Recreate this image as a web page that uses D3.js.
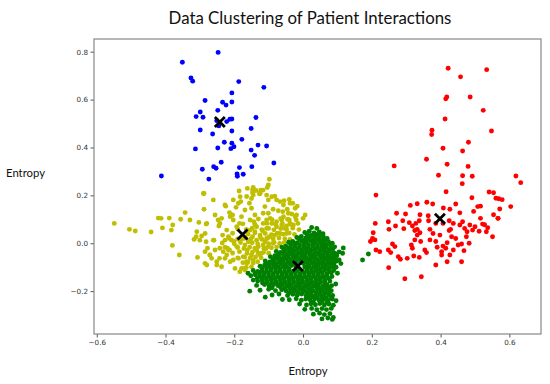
<!DOCTYPE html>
<html>
<head>
<meta charset="utf-8">
<script src="https://cdn.jsdelivr.net/npm/d3@7"></script>
<style>
  body { margin: 0; background: #fff; }
  svg { display: block; }
</style>
</head>
<body>
<div id="chart"></div>
<script>
// tick values
const xTicks = [-0.6, -0.4, -0.2, 0.0, 0.2, 0.4, 0.6];
const yTicks = [-0.2, 0.0, 0.2, 0.4, 0.6, 0.8];

// cluster points [entropy x, entropy y]
const bluePts = [[-0.247,0.797],[-0.351,0.756],[-0.326,0.690],[-0.321,0.677],[-0.187,0.675],[-0.114,0.651],[-0.207,0.628],[-0.285,0.596],[-0.234,0.589],[-0.224,0.577],[-0.207,0.590],[-0.248,0.555],[-0.299,0.548],[-0.311,0.529],[-0.291,0.526],[-0.137,0.525],[-0.251,0.512],[-0.222,0.508],[-0.213,0.518],[-0.207,0.519],[-0.245,0.490],[-0.299,0.473],[-0.263,0.456],[-0.207,0.469],[-0.151,0.479],[-0.178,0.434],[-0.229,0.422],[-0.207,0.418],[-0.313,0.394],[-0.248,0.398],[-0.210,0.395],[-0.201,0.403],[-0.151,0.389],[-0.131,0.410],[-0.106,0.406],[-0.141,0.367],[-0.238,0.338],[-0.260,0.320],[-0.253,0.313],[-0.293,0.309],[-0.185,0.316],[-0.149,0.320],[-0.085,0.335],[-0.274,0.268],[-0.192,0.289],[-0.191,0.280],[-0.174,0.288],[-0.412,0.281]];

const yellowPts = [[-0.549,0.083],[-0.505,0.058],[-0.488,0.051],[-0.442,0.047],[-0.421,0.105],[-0.413,0.104],[-0.409,0.064],[-0.389,0.105],[-0.379,0.076],[-0.383,0.055],[-0.380,-0.009],[-0.360,-0.049],[-0.356,0.100],[-0.343,0.128],[-0.329,0.097],[-0.309,0.048],[-0.317,0.016],[-0.311,0.027],[-0.307,-0.059],[-0.303,0.087],[-0.282,0.080],[-0.288,0.208],[-0.288,0.142],[-0.295,0.030],[-0.300,0.013],[-0.282,0.006],[-0.278,-0.021],[-0.285,-0.035],[-0.280,-0.091],[-0.271,-0.049],[-0.266,-0.063],[-0.259,0.013],[-0.256,-0.028],[-0.247,0.097],[-0.242,0.083],[-0.237,0.104],[-0.245,0.072],[-0.234,0.034],[-0.227,0.013],[-0.222,0.055],[-0.217,0.027],[-0.227,-0.017],[-0.222,-0.049],[-0.232,-0.035],[-0.214,-0.028],[-0.212,-0.077],[-0.243,-0.063],[-0.251,-0.091],[-0.237,-0.098],[-0.225,0.155],[-0.214,0.128],[-0.205,0.118],[-0.203,0.097],[-0.195,0.150],[-0.188,0.167],[-0.181,0.174],[-0.193,0.069],[-0.185,0.083],[-0.179,0.111],[-0.201,0.007],[-0.193,-0.014],[-0.185,-0.035],[-0.188,-0.063],[-0.198,-0.105],[-0.174,0.020],[-0.169,-0.007],[-0.162,-0.028],[-0.174,-0.056],[-0.164,-0.084],[-0.169,0.139],[-0.164,0.195],[-0.156,0.167],[-0.150,0.146],[-0.162,0.229],[-0.147,0.222],[-0.145,0.201],[-0.137,0.220],[-0.125,0.208],[-0.154,0.097],[-0.143,0.090],[-0.135,0.069],[-0.140,0.048],[-0.154,0.055],[-0.147,0.027],[-0.135,0.013],[-0.125,0.034],[-0.130,-0.014],[-0.121,-0.042],[-0.116,-0.007],[-0.106,0.020],[-0.116,0.083],[-0.106,0.097],[-0.101,0.125],[-0.111,0.153],[-0.116,0.222],[-0.106,0.201],[-0.101,0.181],[-0.172,-0.105],
  [-0.098,0.267],[-0.101,0.243],[-0.104,0.233],[-0.145,0.233],[-0.147,0.211],[-0.150,0.187],[-0.123,0.222],[-0.127,0.206],[-0.186,0.218],[-0.082,0.197],[-0.067,0.174],[-0.055,0.178],[-0.040,0.183],[-0.030,0.167],[-0.017,0.155],[-0.087,0.142],[-0.072,0.136],[-0.059,0.132],[-0.046,0.142],[-0.033,0.122],[-0.023,0.111],[-0.040,0.097],[-0.057,0.111],[-0.091,0.083],[-0.077,0.069],[-0.062,0.076],[-0.048,0.072],[-0.028,0.076],[-0.106,0.062],[-0.118,0.052],[-0.125,0.027],[-0.111,0.006],[-0.098,0.027],[-0.082,0.034],[-0.067,0.041],[-0.048,0.041],[-0.135,-0.028],[-0.125,-0.049],[-0.145,-0.070],[-0.150,-0.049],[-0.179,-0.105],[-0.169,-0.112],[-0.184,-0.119],[-0.114,-0.021],[-0.101,-0.014],[-0.087,0.000],
  [-0.290,0.208],[-0.261,0.181],[-0.227,0.160],[-0.203,0.181],[-0.183,0.194],[-0.125,0.210],[-0.091,0.194],[-0.077,0.181],[-0.057,0.160],[-0.038,0.167],[-0.023,0.146],[0.006,0.118],[-0.019,0.118],[-0.043,0.125],[-0.062,0.097],[-0.038,0.083],[-0.053,0.062],[-0.077,0.090],[-0.096,0.104],[-0.116,0.125],[-0.140,0.118],[-0.212,0.111],[-0.256,0.118],[-0.280,0.083],[-0.285,0.041],[-0.261,0.013],[-0.208,0.013],[-0.217,-0.028],[-0.242,-0.021],[-0.271,-0.049],[-0.251,-0.077],[-0.285,-0.084],[-0.227,-0.063],[-0.203,-0.070],[-0.164,-0.077],[-0.159,0.006],[-0.183,0.013],
  [-0.190,0.060],[-0.165,0.058],[-0.148,0.063],[-0.120,0.057],[-0.100,0.062],[-0.085,0.056],[-0.065,0.061],[-0.048,0.058],[-0.030,0.063],[-0.012,0.057],
  [-0.205,0.042],[-0.160,0.038],[-0.140,0.043],[-0.110,0.041],[-0.092,0.036],[-0.075,0.042],[-0.058,0.038],[-0.040,0.043],[-0.025,0.037],
  [-0.215,0.021],[-0.190,0.018],[-0.168,0.022],[-0.152,0.018],[-0.120,0.017],[-0.103,0.021],[-0.087,0.018],[-0.070,0.022],[-0.053,0.019],[-0.038,0.016],
  [-0.235,0.001],[-0.200,-0.002],[-0.182,0.003],[-0.148,0.002],[-0.132,-0.003],[-0.100,-0.002],[-0.084,0.003],[-0.068,-0.001],[-0.055,0.002],
  [-0.220,-0.021],[-0.190,-0.018],[-0.172,-0.022],[-0.155,-0.017],[-0.140,-0.021],[-0.108,-0.023],[-0.092,-0.019],[-0.077,-0.016],
  [-0.205,-0.041],[-0.163,-0.042],[-0.147,-0.037],[-0.131,-0.041],[-0.115,-0.038],[-0.100,-0.042],
  [-0.190,-0.061],[-0.170,-0.058],[-0.154,-0.062],[-0.138,-0.057],[-0.122,-0.061],
  [-0.175,-0.081],[-0.160,-0.078],[-0.145,-0.082],[-0.132,-0.077],[-0.165,-0.101],[-0.150,-0.098],
  [-0.175,0.081],[-0.140,0.078],[-0.105,0.083],[-0.080,0.079],[-0.060,0.082],[-0.035,0.078],[-0.015,0.083],
  [-0.130,0.101],[-0.090,0.098],[-0.065,0.103],[-0.045,0.100],[-0.020,0.098],[0.000,0.104]];

const greenPts = [[0.025,0.066],[0.040,0.062],
  [0.005,0.045],[0.018,0.050],[0.032,0.043],[0.047,0.047],[0.058,0.040],
  [-0.018,0.024],[-0.005,0.028],[0.008,0.022],[0.021,0.030],[0.034,0.025],[0.046,0.021],[0.059,0.027],[0.070,0.020],
  [-0.042,0.004],[-0.030,0.008],[-0.017,0.002],[-0.004,0.009],[0.009,0.004],[0.022,0.010],[0.035,0.003],[0.048,0.007],[0.061,0.001],[0.074,0.006],[0.085,0.000],
  [-0.062,-0.016],[-0.050,-0.012],[-0.037,-0.018],[-0.024,-0.013],[-0.011,-0.019],[0.002,-0.014],[0.015,-0.017],[0.028,-0.012],[0.041,-0.018],[0.054,-0.013],[0.067,-0.016],[0.080,-0.020],[0.092,-0.015],
  [-0.078,-0.034],[-0.066,-0.038],[-0.053,-0.032],[-0.040,-0.037],[-0.027,-0.033],[-0.014,-0.039],[-0.001,-0.034],[0.012,-0.036],[0.025,-0.031],[0.038,-0.038],[0.051,-0.033],[0.064,-0.037],[0.077,-0.032],[0.090,-0.040],[0.105,-0.036],
  [-0.095,-0.056],[-0.082,-0.052],[-0.069,-0.058],[-0.056,-0.053],[-0.043,-0.057],[-0.030,-0.052],[-0.017,-0.058],[-0.004,-0.054],[0.009,-0.059],[0.022,-0.053],[0.035,-0.056],[0.048,-0.052],[0.061,-0.058],[0.074,-0.054],[0.087,-0.057],[0.098,-0.052],
  [-0.110,-0.074],[-0.097,-0.078],[-0.084,-0.073],[-0.071,-0.077],[-0.058,-0.072],[-0.045,-0.078],[-0.032,-0.074],[-0.019,-0.079],[-0.006,-0.073],[0.007,-0.077],[0.020,-0.072],[0.033,-0.078],[0.046,-0.074],[0.059,-0.079],[0.072,-0.073],[0.085,-0.077],[0.098,-0.074],
  [-0.125,-0.096],[-0.112,-0.092],[-0.099,-0.097],[-0.086,-0.093],[-0.073,-0.098],[-0.060,-0.094],[-0.047,-0.099],[-0.034,-0.093],[-0.021,-0.097],[0.005,-0.099],[0.018,-0.094],[0.031,-0.098],[0.044,-0.093],[0.057,-0.097],[0.070,-0.092],[0.083,-0.096],[0.096,-0.100],
  [-0.145,-0.114],[-0.132,-0.118],[-0.119,-0.113],[-0.106,-0.117],[-0.093,-0.112],[-0.080,-0.118],[-0.067,-0.114],[-0.054,-0.119],[-0.041,-0.113],[-0.028,-0.117],[-0.015,-0.112],[-0.002,-0.118],[0.011,-0.114],[0.024,-0.119],[0.037,-0.113],[0.050,-0.117],[0.063,-0.112],[0.076,-0.118],[0.089,-0.114],
  [-0.152,-0.136],[-0.139,-0.132],[-0.126,-0.137],[-0.113,-0.133],[-0.100,-0.138],[-0.087,-0.134],[-0.074,-0.139],[-0.061,-0.133],[-0.048,-0.137],[-0.035,-0.132],[-0.022,-0.138],[-0.009,-0.134],[0.004,-0.139],[0.017,-0.133],[0.030,-0.137],[0.043,-0.132],[0.056,-0.138],[0.069,-0.134],[0.084,-0.139],
  [-0.145,-0.154],[-0.132,-0.158],[-0.119,-0.153],[-0.106,-0.157],[-0.093,-0.152],[-0.080,-0.158],[-0.067,-0.154],[-0.054,-0.159],[-0.041,-0.153],[-0.028,-0.157],[-0.015,-0.152],[-0.002,-0.158],[0.011,-0.154],[0.024,-0.159],[0.037,-0.153],[0.050,-0.157],[0.063,-0.152],[0.078,-0.158],
  [-0.135,-0.176],[-0.112,-0.172],[-0.099,-0.178],[-0.086,-0.173],[-0.073,-0.177],[-0.060,-0.172],[-0.047,-0.178],[-0.034,-0.174],[-0.021,-0.179],[-0.008,-0.173],[0.005,-0.177],[0.018,-0.172],[0.031,-0.178],[0.044,-0.174],[0.057,-0.179],[0.070,-0.173],[0.083,-0.177],
  [-0.125,-0.196],[-0.100,-0.192],[-0.080,-0.198],[-0.062,-0.194],[-0.049,-0.199],[-0.036,-0.193],[-0.023,-0.197],[-0.010,-0.192],[0.003,-0.198],[0.016,-0.194],[0.029,-0.199],[0.042,-0.193],[0.055,-0.197],[0.068,-0.192],[0.082,-0.198],
  [-0.090,-0.216],[-0.070,-0.212],[-0.045,-0.218],[-0.030,-0.213],[-0.017,-0.217],[-0.004,-0.212],[0.009,-0.218],[0.022,-0.214],[0.035,-0.219],[0.048,-0.213],[0.061,-0.217],[0.074,-0.212],[0.086,-0.218],
  [-0.040,-0.236],[-0.020,-0.232],[-0.005,-0.238],[0.008,-0.233],[0.021,-0.237],[0.034,-0.232],[0.047,-0.238],[0.060,-0.234],[0.073,-0.239],[0.085,-0.233],
  [-0.010,-0.254],[0.010,-0.258],[0.023,-0.253],[0.036,-0.257],[0.049,-0.252],[0.062,-0.258],[0.075,-0.254],[0.088,-0.259],
  [0.005,-0.276],[0.025,-0.272],[0.040,-0.278],[0.055,-0.273],[0.068,-0.277],[0.082,-0.272],
  [0.030,-0.296],[0.048,-0.292],[0.062,-0.298],[0.078,-0.294],
  [0.055,-0.316],[0.072,-0.312],[0.085,-0.318],
  [0.012,0.036],[0.026,0.034],[0.040,0.037],[0.052,0.033],
  [-0.010,0.016],[0.003,0.013],[0.016,0.017],[0.029,0.014],[0.042,0.016],[0.055,0.012],[0.066,0.015],
  [-0.036,-0.006],[-0.023,-0.003],[-0.010,-0.007],[0.003,-0.004],[0.016,-0.006],[0.029,-0.003],[0.042,-0.007],[0.055,-0.004],[0.068,-0.008],[0.080,-0.005],
  [-0.056,-0.026],[-0.043,-0.023],[-0.030,-0.027],[-0.017,-0.024],[-0.004,-0.028],[0.009,-0.023],[0.022,-0.027],[0.035,-0.024],[0.048,-0.026],[0.061,-0.023],[0.074,-0.028],[0.086,-0.025],
  [-0.072,-0.046],[-0.059,-0.043],[-0.046,-0.047],[-0.033,-0.044],[-0.020,-0.048],[-0.007,-0.043],[0.006,-0.047],[0.019,-0.044],[0.032,-0.046],[0.045,-0.043],[0.058,-0.048],[0.071,-0.044],[0.084,-0.047],[0.097,-0.045],
  [-0.088,-0.066],[-0.075,-0.063],[-0.062,-0.067],[-0.049,-0.064],[-0.036,-0.068],[-0.023,-0.063],[-0.010,-0.067],[0.003,-0.064],[0.016,-0.066],[0.029,-0.063],[0.042,-0.068],[0.055,-0.064],[0.068,-0.067],[0.081,-0.063],[0.093,-0.066],
  [-0.104,-0.086],[-0.091,-0.083],[-0.078,-0.087],[-0.065,-0.084],[-0.052,-0.088],[-0.039,-0.083],[-0.026,-0.087],[0.000,-0.084],[0.013,-0.086],[0.026,-0.083],[0.039,-0.088],[0.052,-0.084],[0.065,-0.087],[0.078,-0.083],[0.090,-0.086],
  [-0.119,-0.106],[-0.106,-0.103],[-0.093,-0.107],[-0.080,-0.104],[-0.067,-0.108],[-0.054,-0.103],[-0.041,-0.107],[0.011,-0.104],[0.024,-0.106],[0.037,-0.103],[0.050,-0.108],[0.063,-0.104],[0.076,-0.107],[0.089,-0.103],
  [-0.139,-0.126],[-0.126,-0.123],[-0.113,-0.127],[-0.100,-0.124],[-0.087,-0.128],[-0.074,-0.123],[-0.061,-0.127],[-0.048,-0.124],[-0.035,-0.126],[-0.022,-0.123],[-0.009,-0.128],[0.004,-0.124],[0.017,-0.127],[0.030,-0.123],[0.043,-0.126],[0.056,-0.124],[0.069,-0.128],[0.082,-0.123],
  [-0.133,-0.146],[-0.120,-0.143],[-0.107,-0.147],[-0.094,-0.144],[-0.081,-0.148],[-0.068,-0.143],[-0.055,-0.147],[-0.042,-0.144],[-0.029,-0.146],[-0.016,-0.143],[-0.003,-0.148],[0.010,-0.144],[0.023,-0.147],[0.036,-0.143],[0.049,-0.146],[0.062,-0.144],[0.075,-0.147],
  [-0.118,-0.166],[-0.105,-0.163],[-0.092,-0.167],[-0.079,-0.164],[-0.066,-0.168],[-0.053,-0.163],[-0.040,-0.167],[-0.027,-0.164],[-0.014,-0.166],[-0.001,-0.163],[0.012,-0.168],[0.025,-0.164],[0.038,-0.167],[0.051,-0.163],[0.064,-0.166],
  [-0.090,-0.186],[-0.066,-0.183],[-0.053,-0.187],[-0.040,-0.184],[-0.027,-0.188],[-0.014,-0.183],[-0.001,-0.187],[0.012,-0.184],[0.025,-0.186],[0.038,-0.183],[0.051,-0.188],[0.064,-0.184],[0.076,-0.187],
  [-0.040,-0.206],[-0.027,-0.203],[-0.014,-0.207],[-0.001,-0.204],[0.012,-0.208],[0.025,-0.203],[0.038,-0.207],[0.051,-0.204],[0.064,-0.206],[0.077,-0.203],
  [0.015,-0.226],[0.028,-0.223],[0.041,-0.227],[0.054,-0.224],[0.067,-0.228],[0.080,-0.223],
  [0.030,-0.246],[0.055,-0.243],[0.070,-0.247],
  [0.173,-0.070],[0.190,-0.045],[0.115,-0.042],[0.105,-0.070],[0.117,-0.020],[0.110,-0.085],[0.100,-0.125],[-0.160,-0.125],[-0.155,-0.200],[-0.110,-0.225],[-0.060,-0.235],[0.095,-0.170],[0.096,-0.240],[0.088,-0.310]];

const redPts = [[0.422,0.731],[0.458,0.695],[0.534,0.725],[0.415,0.603],[0.418,0.611],[0.486,0.611],[0.524,0.555],[0.413,0.519],[0.375,0.472],[0.374,0.454],[0.548,0.469],[0.481,0.422],[0.407,0.397],[0.464,0.385],[0.359,0.351],[0.265,0.323],[0.419,0.330],[0.480,0.321],[0.394,0.284],[0.464,0.282],[0.492,0.280],[0.463,0.249],[0.619,0.281],[0.633,0.253],[0.212,0.201],[0.416,0.215],[0.491,0.190],[0.541,0.214],[0.554,0.211],[0.561,0.188],[0.569,0.186],[0.579,0.182],[0.604,0.153],[0.312,0.158],[0.332,0.165],[0.360,0.171],[0.377,0.164],[0.444,0.164],[0.408,0.147],[0.508,0.153],[0.516,0.155],[0.572,0.143],[0.272,0.125],[0.298,0.122],[0.340,0.119],[0.364,0.115],[0.427,0.142],[0.456,0.127],[0.496,0.133],[0.554,0.119],[0.567,0.104],
  [0.210,0.083],[0.248,0.090],[0.250,0.058],[0.269,0.072],[0.290,0.094],[0.293,0.061],[0.309,0.086],[0.318,0.072],[0.328,0.083],[0.332,0.058],[0.338,0.094],[0.365,0.094],[0.369,0.058],[0.386,0.083],[0.407,0.083],[0.425,0.094],[0.429,0.058],[0.437,0.083],[0.456,0.076],[0.464,0.090],[0.470,0.062],[0.477,0.048],[0.485,0.076],[0.493,0.055],[0.500,0.069],[0.516,0.104],[0.522,0.080],[0.533,0.048],[0.551,0.027],[0.567,0.104],
  [0.204,0.044],[0.202,0.020],[0.196,0.007],[0.209,0.014],[0.212,-0.028],[0.223,-0.035],[0.248,-0.028],[0.260,-0.003],[0.267,-0.014],[0.255,-0.039],[0.277,-0.056],[0.283,-0.067],[0.303,-0.063],[0.318,-0.021],[0.325,0.014],[0.332,0.034],[0.340,0.044],[0.315,-0.007],[0.322,-0.053],[0.338,-0.059],[0.342,0.007],[0.354,-0.028],[0.359,-0.039],[0.369,0.014],[0.378,0.041],[0.386,0.007],[0.390,-0.017],[0.398,0.034],[0.403,-0.035],[0.407,-0.012],[0.415,-0.021],[0.419,0.002],[0.425,0.053],[0.432,0.027],[0.437,-0.028],[0.444,0.020],[0.451,-0.007],[0.461,-0.003],[0.468,-0.031],[0.475,0.027],[0.483,0.000],[0.461,-0.077],[0.419,-0.077],[0.386,-0.091],[0.344,-0.140],[0.296,-0.148],[0.249,-0.102],[0.403,-0.049],[0.427,-0.049],[0.325,0.053],
  [0.512,0.050],[0.537,0.065],[0.528,0.077]];

const centroids = [[-0.242,0.506],[-0.176,0.037],[-0.015,-0.095],[0.398,0.102]];

const clusters = [
  {pts: yellowPts, color: "#bfbf00"},
  {pts: greenPts, color: "#008000"},
  {pts: bluePts, color: "#0000ff"},
  {pts: redPts, color: "#ff0000"}
];

const width = 550;
const height = 384;
const plot = {left: 94, right: 541, top: 39, bottom: 334};

const svg = d3.select("#chart")
    .append("svg")
    .attr("width", width)
    .attr("height", height)
    .style("background", "#fff");

const x = d3.scaleLinear().domain([-0.608, 0.692]).range([plot.left, plot.right]);
const y = d3.scaleLinear().domain([-0.379, 0.853]).range([plot.bottom, plot.top]);

// matplotlib style minus sign
const fmt = d => (d < 0 ? "\u2212" : "") + Math.abs(d).toFixed(1);

// points
clusters.forEach(c => {
    svg.append("g")
        .selectAll("circle")
        .data(c.pts)
        .enter()
        .append("circle")
        .attr("cx", d => x(d[0]))
        .attr("cy", d => y(d[1]))
        .attr("r", 2.45)
        .attr("fill", c.color);
});

// centroid crosses
const s = 5;
svg.append("g")
    .selectAll("path")
    .data(centroids)
    .enter()
    .append("path")
    .attr("d", d => {
        const cx = x(d[0]), cy = y(d[1]);
        return `M${cx - s},${cy - s}L${cx + s},${cy + s}M${cx - s},${cy + s}L${cx + s},${cy - s}`;
    })
    .attr("stroke", "#000")
    .attr("stroke-width", 2.8)
    .attr("fill", "none");

// axes
const xAxis = svg.append("g")
    .attr("transform", `translate(0,${plot.bottom})`)
    .call(d3.axisBottom(x).tickValues(xTicks).tickFormat(fmt).tickSize(3.5).tickPadding(2.5));
const yAxis = svg.append("g")
    .attr("transform", `translate(${plot.left},0)`)
    .call(d3.axisLeft(y).tickValues(yTicks).tickFormat(fmt).tickSize(3.5).tickPadding(2.5));

[xAxis, yAxis].forEach(a => {
    a.select(".domain").remove();
    a.selectAll("line").attr("stroke", "#555");
    a.selectAll("text")
        .attr("fill", "#333")
        .style("font-family", "DejaVu Sans, sans-serif")
        .style("font-size", "7.2px");
});

// frame
svg.append("rect")
    .attr("x", plot.left)
    .attr("y", plot.top)
    .attr("width", plot.right - plot.left)
    .attr("height", plot.bottom - plot.top)
    .attr("fill", "none")
    .attr("stroke", "#888")
    .attr("stroke-width", 1.2);

// title and labels, sized to the widths seen in the picture
function fitText(sel, target) {
    const w = sel.node().getComputedTextLength();
    const fs = parseFloat(sel.style("font-size"));
    sel.style("font-size", (fs * target / w) + "px");
}

const title = svg.append("text")
    .attr("x", 310)
    .attr("y", 24)
    .attr("text-anchor", "middle")
    .style("font-family", "Lato, sans-serif")
    .style("font-size", "18px")
    .attr("fill", "#111")
    .text("Data Clustering of Patient Interactions");
fitText(title, 283);

const xLabel = svg.append("text")
    .attr("x", 308)
    .attr("y", 375)
    .attr("text-anchor", "middle")
    .style("font-family", "Lato, sans-serif")
    .style("font-size", "13px")
    .attr("fill", "#111")
    .text("Entropy");
fitText(xLabel, 39);

const yLabel = svg.append("text")
    .attr("x", 25.5)
    .attr("y", 177)
    .attr("text-anchor", "middle")
    .style("font-family", "Lato, sans-serif")
    .style("font-size", "13px")
    .attr("fill", "#111")
    .text("Entropy");
fitText(yLabel, 39);
</script>
</body>
</html>
